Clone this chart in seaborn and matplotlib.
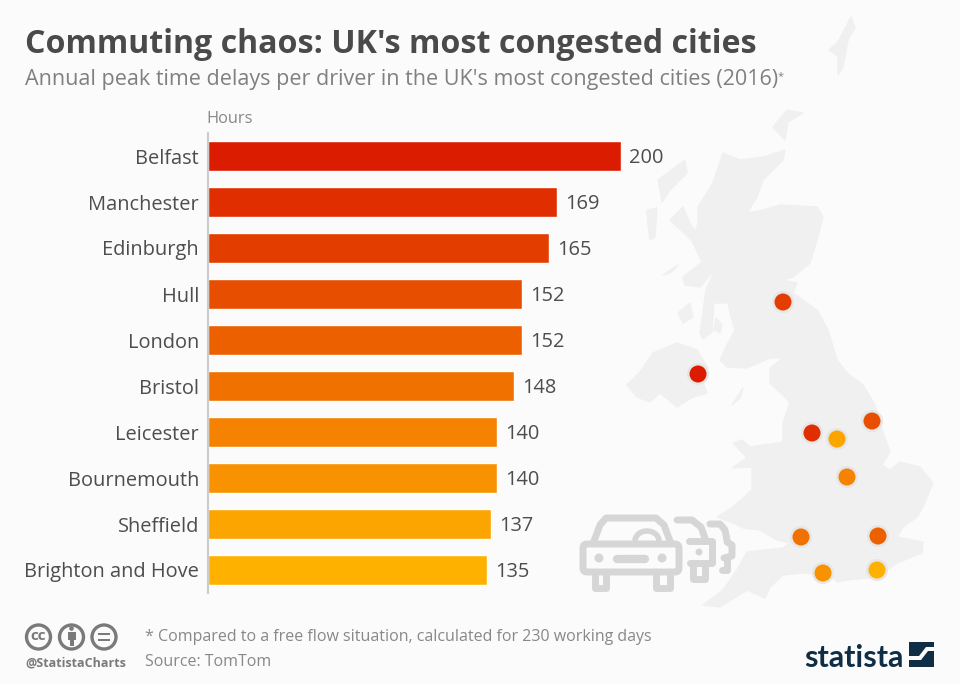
import matplotlib
matplotlib.use('Agg')
import matplotlib.pyplot as plt
import pandas as pd
import seaborn as sns
from matplotlib.patches import Circle, Polygon, Rectangle, FancyBboxPatch, Arc

cities = ['Belfast', 'Manchester', 'Edinburgh', 'Hull', 'London', 'Bristol',
          'Leicester', 'Bournemouth', 'Sheffield', 'Brighton and Hove']
hours = [200, 169, 165, 152, 152, 148, 140, 140, 137, 135]
bar_colors = ['#dc1c00', '#e02e00', '#e33e00', '#e84e00', '#ec6000',
              '#f07000', '#f58200', '#f99200', '#fca400', '#ffb100']

# dots on the map, same order as cities (pixel positions on the map)
dot_x = [698, 812, 783, 872, 878, 801, 847, 823, 837, 877]
dot_y = [374, 433, 302, 421, 536, 537, 477, 573, 439, 570]

great_britain = [(723, 153), (740, 160), (763, 157), (785, 150), (783, 160), (763, 180), (757, 197), (747, 213),
                 (763, 210), (780, 205), (817, 207), (823, 217), (817, 240), (810, 263), (793, 277), (783, 280),
                 (797, 283), (793, 293), (817, 310), (828, 330), (837, 360), (847, 373), (863, 385), (875, 405),
                 (882, 430), (890, 452), (882, 465), (890, 470), (900, 462), (920, 467), (933, 483), (923, 507),
                 (917, 517), (903, 527), (897, 537), (923, 542), (922, 553), (897, 563), (877, 577), (847, 580),
                 (837, 582), (830, 575), (803, 573), (783, 575), (770, 587), (765, 598), (747, 590), (720, 607),
                 (703, 605), (723, 590), (737, 570), (747, 552), (783, 548), (790, 543), (777, 540), (760, 530),
                 (743, 528), (733, 523), (717, 517), (733, 507), (752, 490), (752, 467), (732, 468), (747, 458),
                 (733, 443), (742, 440), (750, 447), (783, 442), (783, 423), (790, 402), (770, 383), (770, 368),
                 (783, 358), (770, 358), (747, 368), (727, 367), (720, 360), (727, 345), (735, 330), (730, 313),
                 (728, 303), (714, 303), (712, 332), (703, 339), (700, 333), (706, 290), (716, 268), (700, 287),
                 (685, 285), (683, 277), (702, 262), (693, 243), (698, 223), (698, 207), (713, 183)]
northern_ireland = [(627, 385), (640, 372), (653, 353), (677, 343), (697, 350), (708, 368), (703, 383), (707, 393),
                    (693, 397), (677, 407), (660, 393), (650, 402), (637, 397)]
islands = [[(829, 50), (838, 42), (851, 17), (855, 28), (848, 40), (843, 67), (838, 75), (838, 56)],
           [(773, 127), (787, 110), (803, 113), (788, 122), (785, 140)],
           [(658, 180), (685, 160), (687, 173), (670, 190), (662, 202), (660, 190)],
           [(647, 210), (657, 208), (655, 237), (650, 240), (648, 225)],
           [(670, 220), (683, 207), (692, 227), (702, 238), (693, 242), (683, 232)],
           [(663, 275), (678, 265), (672, 272)],
           [(678, 313), (690, 303), (693, 317), (683, 323)],
           [(716, 318), (722, 325), (720, 333), (714, 330)],
           [(732, 405), (743, 388), (740, 398)]]

sns.set_theme(style='white')
plt.rcParams['font.family'] = ['Open Sans', 'DejaVu Sans']

bg = '#fbfbfb'
fig = plt.figure(figsize=(9.6, 6.84), dpi=100, facecolor=bg)

# overlay in pixel coordinates for the map, icons and text
page = fig.add_axes([0, 0, 1, 1], zorder=0)
page.set_xlim(0, 960)
page.set_ylim(684, 0)
page.axis('off')

map_col = '#f0f0f0'
for shape in [great_britain, northern_ireland] + islands:
    page.add_patch(Polygon(shape, closed=True, fc=map_col, ec=map_col, lw=1, joinstyle='round'))

for x, y, c in zip(dot_x, dot_y, bar_colors):
    page.add_patch(Circle((x, y), 11, fc='#e6e6e6', ec='none', zorder=3))
    page.add_patch(Circle((x, y), 8.5, fc=c, ec='none', zorder=4))

# car icon
car = '#d6d6d6'
def stroke(xs, ys, w=5):
    page.plot(xs, ys, color=car, lw=w, solid_capstyle='round', solid_joinstyle='round', zorder=2)

page.add_patch(FancyBboxPatch((583, 544), 96, 28, boxstyle='round,pad=0,rounding_size=4', fc='none', ec=car, lw=5, zorder=2))
stroke([594, 600, 606, 656, 664, 670], [541, 525, 518, 518, 525, 541])
page.add_patch(Arc((647, 541), 24, 20, theta1=180, theta2=360, color=car, lw=4, zorder=2))
stroke([595, 595, 606, 606], [575, 588, 588, 575])
stroke([656, 656, 670, 670], [575, 588, 588, 575])
page.add_patch(Circle((599, 558), 4.5, fc=car, ec='none', zorder=2))
page.add_patch(Circle((662, 558), 4.5, fc=car, ec='none', zorder=2))
stroke([617, 645], [559, 559], 6)
stroke([677, 692, 701, 706], [520, 520, 527, 541])
stroke([689, 712, 712, 690], [541, 541, 563, 563])
page.add_patch(Circle((699, 552), 3.5, fc=car, ec='none', zorder=2))
stroke([693, 693, 705, 705], [565, 579, 579, 565])
stroke([710, 720, 725, 727], [524, 524, 530, 540])
stroke([727, 732, 732, 724], [542, 545, 556, 558])
stroke([722, 727, 727], [570, 570, 560])

# licence icons
grey = '#7a7a7a'
for cx in [38.5, 71.5, 104]:
    page.add_patch(Circle((cx, 637), 12, fc='none', ec=grey, lw=2.4))
page.text(38.5, 636, 'cc', ha='center', va='center', fontsize=11, fontweight='bold', color=grey)
page.add_patch(Circle((71.5, 628.5), 2.3, fc=grey, ec='none'))
page.add_patch(Rectangle((67.5, 632), 8, 8, fc=grey, ec='none'))
page.add_patch(Rectangle((69.5, 639), 4, 7, fc=grey, ec='none'))
page.add_patch(Rectangle((98, 632.5), 12, 2.6, fc=grey, ec='none'))
page.add_patch(Rectangle((98, 638.5), 12, 2.6, fc=grey, ec='none'))

# statista logo
navy = '#0f2e45'
page.text(804, 667, 'statista', ha='left', va='baseline', fontsize=22, fontweight='bold', color=navy, family='Lato')
page.add_patch(Rectangle((909, 642), 25, 25, fc=navy, ec='none'))
page.add_patch(Polygon([(909, 656), (919, 656), (926, 647), (934, 647), (934, 651), (928, 651), (921, 660), (909, 660)],
                       fc=bg, ec='none'))

# titles and notes
page.text(25, 53, "Commuting chaos: UK's most congested cities", fontsize=23.1, fontweight='bold', color='#4a4a4a')
page.text(25, 85, "Annual peak time delays per driver in the UK's most congested cities (2016)", fontsize=15.5, color='#808080')
page.text(778, 79, '*', fontsize=8, color='#808080')
page.text(206.5, 123, 'Hours', fontsize=11.8, color='#888888')
page.text(145, 641, '* Compared to a free flow situation, calculated for 230 working days', fontsize=11.5, color='#888888')
page.text(145, 666, 'Source: TomTom', fontsize=11.5, color='#888888')
page.text(25, 666, '@StatistaCharts', fontsize=9, fontweight='bold', color=grey)

# bars
ax = fig.add_axes([208 / 960, 1 - 593 / 684, 413 / 960, 460 / 684], zorder=1)
ax.patch.set_alpha(0)
df = pd.DataFrame({'city': cities, 'hours': hours})
sns.barplot(data=df, y='city', x='hours', hue='city', palette=bar_colors, legend=False,
            width=0.64, saturation=1, ax=ax)
ax.set_xlim(0, 200)
ax.set_xlabel('')
ax.set_ylabel('')
ax.set_xticks([])
ax.tick_params(axis='y', length=0, pad=6.5, labelsize=14.4, labelcolor='#4d4d4d')
sns.despine(ax=ax, left=False, bottom=True)
ax.spines['left'].set_color('#cccccc')
ax.spines['left'].set_linewidth(1.5)
for c in ax.containers:
    for lab in ax.bar_label(c, padding=6, fontsize=14.4, color='#4d4d4d'):
        lab.xyann = (lab.xyann[0], -1.4)

plt.savefig('out.png', dpi=100, facecolor=bg)
